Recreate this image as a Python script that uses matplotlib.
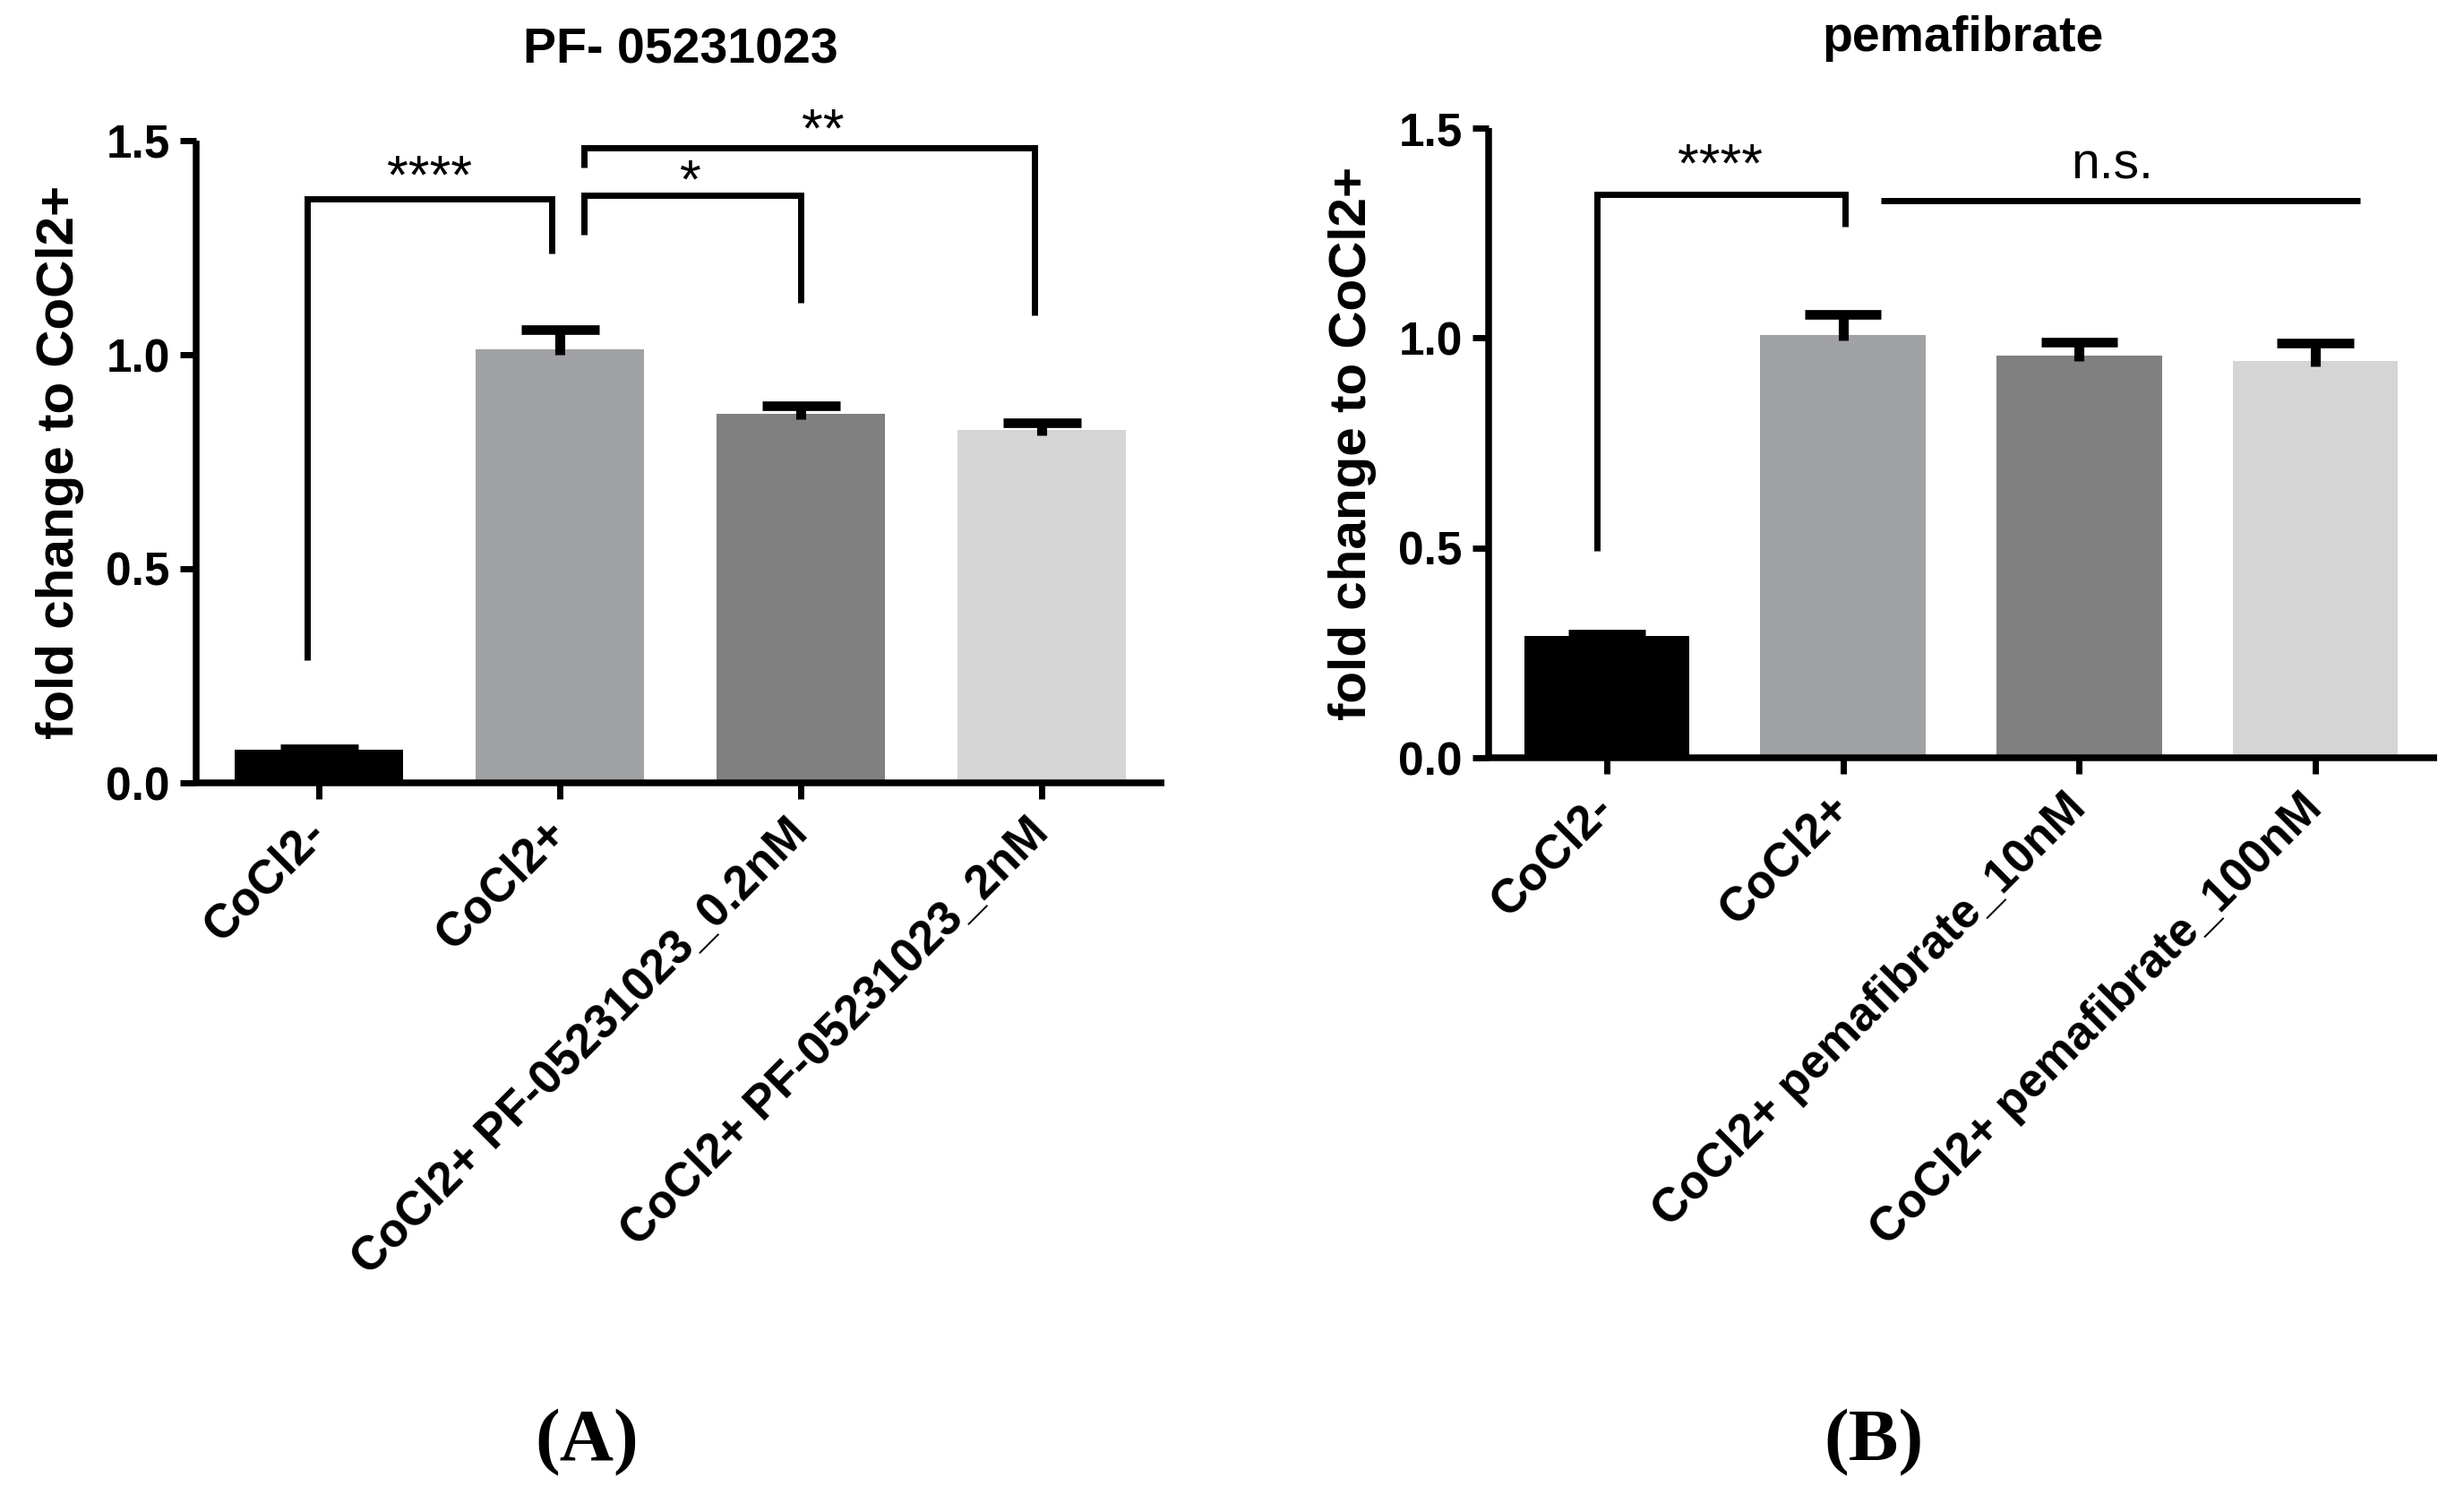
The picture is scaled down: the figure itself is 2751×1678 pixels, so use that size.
import matplotlib
matplotlib.use("Agg")
import matplotlib.pyplot as plt
import numpy as np

# ---------------- data ----------------
cats_a = ["CoCl2-", "CoCl2+", "CoCl2+ PF-05231023_0.2nM", "CoCl2+ PF-05231023_2nM"]
vals_a = [0.077, 1.012, 0.862, 0.824]
err_a = [0.003, 0.047, 0.019, 0.017]

cats_b = ["CoCl2-", "CoCl2+", "CoCl2+ pemafibrate_10nM", "CoCl2+ pemafibrate_100nM"]
vals_b = [0.290, 1.007, 0.958, 0.945]
err_b = [0.005, 0.049, 0.032, 0.043]

bar_colors = ["#000000", "#a1a2a6", "#808080", "#d5d5d5"]

# significance annotations: (x_left, x_right, y_top, left_bottom, right_bottom, label, text_x, text_y)
sig_a = [
    (-0.05, 0.965, 1.364, 0.287, 1.236, "****", 0.46, 1.378),
    (1.10, 2.00, 1.372, 1.280, 1.121, "*", 1.54, 1.368),
    (1.10, 2.97, 1.483, 1.437, 1.092, "**", 2.09, 1.486),
]
sig_b = [
    (-0.04, 1.01, 1.342, 0.493, 1.265, "****", 0.48, 1.374),
    (1.16, 3.19, 1.327, None, None, "n.s.", 2.14, 1.379),
]

W, H = 2751, 1678
DPI = 100
SANS = "Liberation Sans"
fig = plt.figure(figsize=(W / DPI, H / DPI), dpi=DPI)
fig.patch.set_facecolor("white")

STEM_BELOW = 0.012
CAP_HALF = 0.162


def panel(rect, cats, vals, errs, sigs, xlim, title, title_pad):
    ax = fig.add_axes(rect)
    x = np.arange(len(cats))
    v = np.asarray(vals)
    e = np.asarray(errs)
    ax.bar(x, v, width=0.70, color=bar_colors, edgecolor="none", zorder=2)
    # GraphPad-style error bars: upper cap only
    ax.vlines(x, v - STEM_BELOW, v + e, colors="black", linewidth=8, zorder=3)
    ax.hlines(v + e, x - CAP_HALF, x + CAP_HALF, colors="black", linewidth=7.7,
              zorder=3)
    ax.set_xlim(*xlim)
    ax.set_ylim(0, 1.5)
    ax.set_yticks([0.0, 0.5, 1.0, 1.5])
    ax.set_yticklabels(["0.0", "0.5", "1.0", "1.5"], fontfamily=SANS,
                       fontweight="bold", fontsize=37)
    ax.set_xticks(x)
    ax.set_xticklabels(cats, rotation=45, ha="right", va="center",
                       rotation_mode="anchor", fontfamily=SANS,
                       fontweight="bold", fontsize=38)
    for s in ["top", "right"]:
        ax.spines[s].set_visible(False)
    for s in ["left", "bottom"]:
        ax.spines[s].set_linewidth(5.4)
        ax.spines[s].set_capstyle("butt")
    ax.tick_params(axis="y", length=13, width=5, pad=8, direction="out")
    ax.tick_params(axis="x", length=13, width=5, pad=22, direction="out")

    for (x1, x2, yt, lb, rb, lab, tx, ty) in sigs:
        if lb is None:
            ax.plot([x1, x2], [yt, yt], color="black", lw=5,
                    solid_capstyle="butt", clip_on=False, zorder=4)
        else:
            ax.plot([x1, x1, x2, x2], [lb, yt, yt, rb], color="black", lw=5,
                    solid_joinstyle="miter", solid_capstyle="butt",
                    clip_on=False, zorder=4)
        ax.text(tx, ty, lab, ha="center", va="baseline", fontfamily=SANS,
                fontsize=44 if lab != "n.s." else 41, clip_on=False)

    ax.set_title(title, fontfamily=SANS, fontweight="bold", fontsize=40,
                 pad=title_pad)
    width_px = rect[2] * W
    ax.text(-152 / width_px, 0.5, "fold change to CoCl2+", transform=ax.transAxes,
            rotation=90, ha="center", va="center", fontfamily=SANS,
            fontweight="bold", fontsize=42)
    return ax


axA = panel([219 / W, 1 - 874 / H, 4.02 * 269 / W, 717 / H], cats_a, vals_a,
            err_a, sig_a, (-0.51, 3.51), "PF- 05231023", 62)
axB = panel([1662 / W, 1 - 846 / H, 1059 / W, 703 / H], cats_b, vals_b,
            err_b, sig_b, (-0.50, 3.516), "pemafibrate", 62)

fig.text(655 / W, 1 - 1630 / H, "(A)", ha="center", va="baseline",
         fontfamily="Liberation Serif", fontweight="bold", fontsize=60)
fig.text(2092 / W, 1 - 1630 / H, "(B)", ha="center", va="baseline",
         fontfamily="Liberation Serif", fontweight="bold", fontsize=60)

fig.savefig("out.png", dpi=DPI, facecolor="white")
